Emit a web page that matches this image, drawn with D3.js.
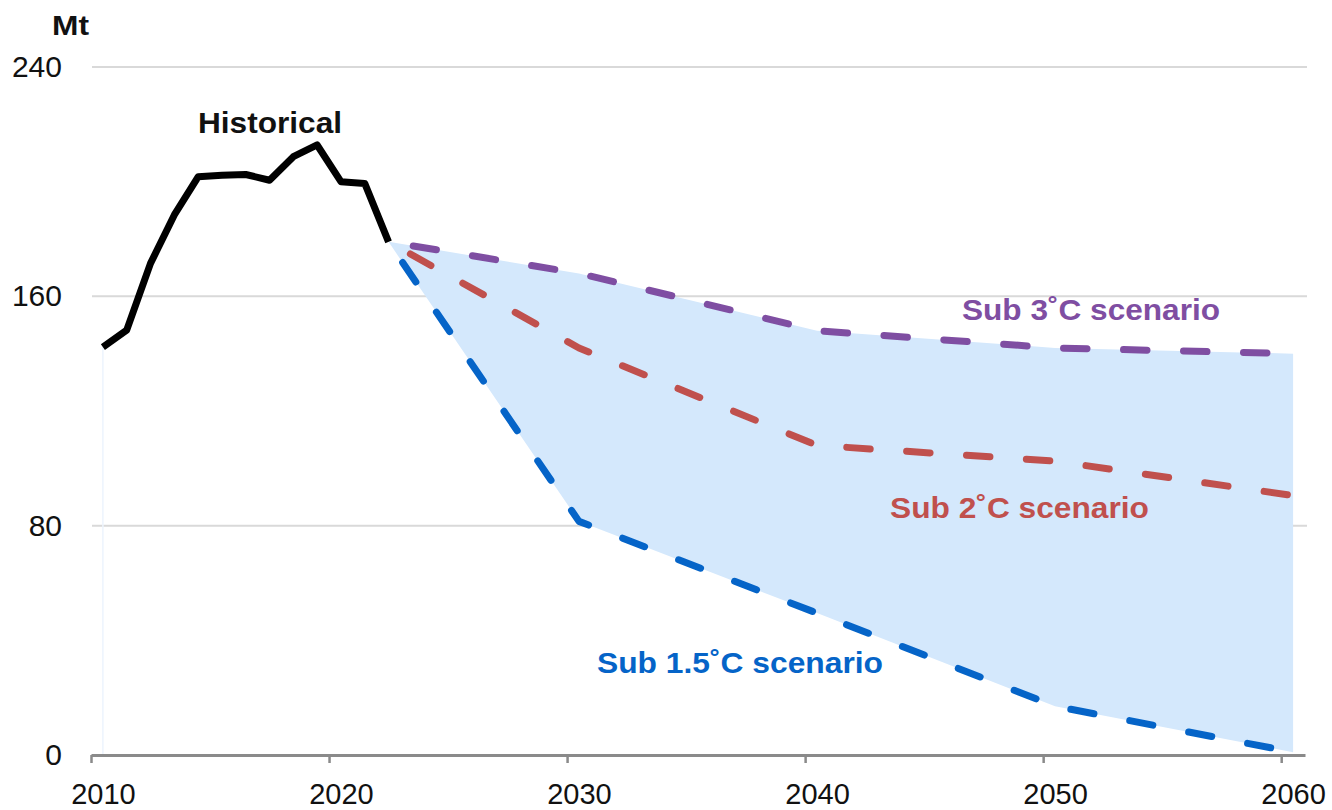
<!DOCTYPE html>
<html>
<head>
<meta charset="utf-8">
<script src="https://cdn.jsdelivr.net/npm/d3@7"></script>
<style>
  body { margin: 0; background: #fff; }
  svg { display: block; }
  text { font-family: "Liberation Sans", Arial, sans-serif; }
</style>
</head>
<body>
<svg id="chart" width="1332" height="810"></svg>
<script>
// ---------- DATA ----------
const histYears  = [2010, 2011, 2012, 2013, 2014, 2015, 2016, 2017, 2018, 2019, 2020, 2021, 2022];
const histValues = [142.3, 148.2, 171.5, 188.4, 201.7, 202.2, 202.5, 200.5, 208.7, 212.8, 200.0, 199.4, 179.0];

const scenarioYears = [2022, 2030, 2040, 2050, 2060];
const sub3Values  = [179, 168, 148, 142, 140];
const sub2Values  = [179, 142, 108, 102.5, 90.5];
const sub15Values = [179, 81.5, 49.5, 17, 1];

const yTicks = [0, 80, 160, 240];
const xTicks = [2010, 2020, 2030, 2040, 2050, 2060];
const unitLabel = "Mt";
const histLabel = "Historical";
const scenarioNames = ["Sub 3˚C scenario", "Sub 2˚C scenario", "Sub 1.5˚C scenario"];

// ---------- LAYOUT ----------
const svg = d3.select("#chart");
const FONT = '"Liberation Sans", Arial, sans-serif';
const x = d3.scaleLinear().domain([2010, 2061]).range([91, 1305]);
const band = x(2011) - x(2010);
const cx = yr => x(yr + 0.5);
const y = d3.scaleLinear().domain([0, 240]).range([755, 67]);

const colors = { sub3: "#7f4ea2", sub2: "#c0504d", sub15: "#0564c8", fill: "#d4e8fc" };

// gridlines
svg.append("g").selectAll("line").data(yTicks.filter(d => d > 0)).join("line")
  .attr("x1", x.range()[0] + 1).attr("x2", x.range()[1] + 2)
  .attr("y1", d => y(d)).attr("y2", d => y(d))
  .attr("stroke", "#d9d9d9").attr("stroke-width", 2);

// shaded scenario range
const bandData = scenarioYears.map((yr, i) => ({ yr, lo: sub15Values[i], hi: sub3Values[i] }));
svg.append("path").datum(bandData)
  .attr("fill", colors.fill)
  .attr("d", d3.area().x(d => cx(d.yr)).y0(d => y(d.lo)).y1(d => y(d.hi)));

// faint edge at first year
svg.append("line")
  .attr("x1", cx(histYears[0])).attr("x2", cx(histYears[0]))
  .attr("y1", y(0)).attr("y2", y(histValues[0]))
  .attr("stroke", "#edf4fd").attr("stroke-width", 1.5);

// x axis
const xAxis = svg.append("g").attr("transform", `translate(0,${y(0)})`)
  .call(d3.axisBottom(x).tickValues(xTicks).tickFormat(d3.format("d")).tickSize(8).tickSizeOuter(0));
xAxis.select(".domain").attr("stroke", "#8a8a8a").attr("stroke-width", 3);
xAxis.selectAll(".tick line").attr("stroke", "#8a8a8a").attr("stroke-width", 2.5);
xAxis.selectAll(".tick text")
  .attr("x", band / 2).attr("y", 49).attr("dy", null)
  .attr("font-family", FONT).attr("font-size", 29).attr("fill", "#111");

// y labels
svg.append("g").selectAll("text").data(yTicks).join("text")
  .attr("x", 62).attr("y", d => y(d) + 10)
  .attr("text-anchor", "end")
  .attr("font-size", 30).attr("fill", "#111")
  .text(d => d);

// scenario lines
const line = d3.line().x(d => cx(d.yr)).y(d => y(d.v));
const series = [
  { vals: sub3Values,  color: colors.sub3 },
  { vals: sub2Values,  color: colors.sub2 },
  { vals: sub15Values, color: colors.sub15 }
];
series.forEach(s => {
  svg.append("path")
    .datum(scenarioYears.map((yr, i) => ({ yr, v: s.vals[i] })))
    .attr("fill", "none").attr("stroke", s.color).attr("stroke-width", 7)
    .attr("stroke-linecap", "round").attr("stroke-linejoin", "round")
    .attr("stroke-dasharray", "23.5 36.5").attr("stroke-dashoffset", 35)
    .attr("d", line);
});

// historical line
svg.append("path")
  .datum(histYears.map((yr, i) => ({ yr, v: histValues[i] })))
  .attr("fill", "none").attr("stroke", "#000").attr("stroke-width", 7)
  .attr("stroke-linejoin", "round")
  .attr("d", line);

// labels
function label(txt, x0, base, size, len, color) {
  svg.append("text").attr("x", x0).attr("y", base)
    .attr("font-size", size).attr("font-weight", "bold").attr("fill", color)
    .attr("textLength", len).attr("lengthAdjust", "spacingAndGlyphs")
    .text(txt);
}
label(unitLabel, 52, 35, 28, 37, "#111");
label(histLabel, 198, 133, 29, 144, "#111");
label(scenarioNames[0], 962, 320, 30, 258, colors.sub3);
label(scenarioNames[1], 890, 518, 30, 259, colors.sub2);
label(scenarioNames[2], 597, 673, 30, 286, colors.sub15);
</script>
</body>
</html>
